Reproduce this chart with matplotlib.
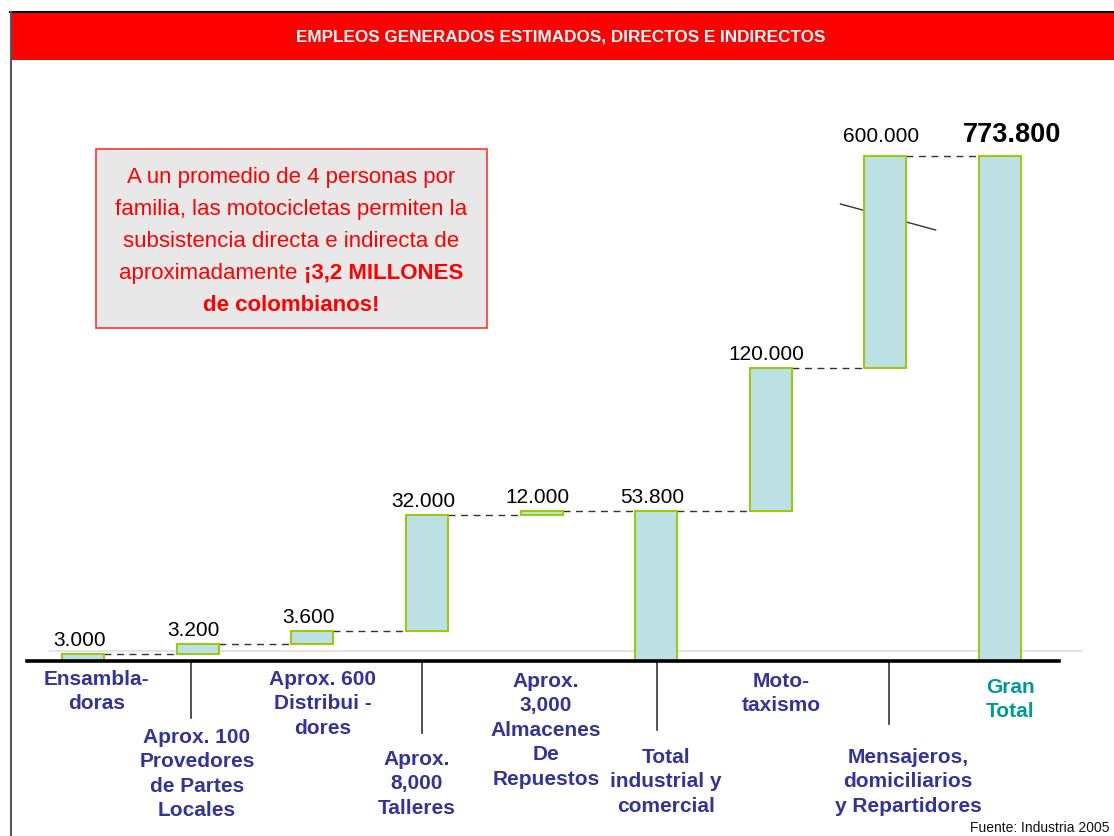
import matplotlib
matplotlib.use("Agg")
import matplotlib.pyplot as plt
from matplotlib.patches import Rectangle
from matplotlib import font_manager

# ---------------- data ----------------
categories = [
    "Ensambla-\ndoras",
    "Aprox. 100\nProvedores\nde Partes\nLocales",
    "Aprox. 600\nDistribui -\ndores",
    "Aprox.\n8,000\nTalleres",
    "Aprox.\n3,000\nAlmacenes\nDe\nRepuestos",
    "Total\nindustrial y\ncomercial",
    "Moto-\ntaxismo",
    "Mensajeros,\ndomiciliarios\ny Repartidores",
    "Gran\nTotal",
]
values = [3000, 3200, 3600, 32000, 12000, 53800, 120000, 600000, 773800]
is_total = [False, False, False, False, False, True, False, False, True]
# bar heights as drawn in the (not-to-scale, broken) chart
drawn_heights = [7, 10, 13, 116, 4, 150, 143, 212, 505]

title = "EMPLEOS GENERADOS ESTIMADOS, DIRECTOS E INDIRECTOS"
note_lines = [
    "A un promedio de 4 personas por",
    "familia, las motocicletas permiten la",
    "subsistencia directa e indirecta de",
]
note_line4 = ("aproximadamente ", "¡3,2 MILLONES")
note_line5 = "de colombianos!"
source = "Fuente: Industria 2005"

# ---------------- styling ----------------
available = {f.name for f in font_manager.fontManager.ttflist}
SANS = "Liberation Sans" if "Liberation Sans" in available else "DejaVu Sans"
NARROW = "Liberation Sans Narrow" if "Liberation Sans Narrow" in available else SANS
plt.rcParams["font.family"] = [SANS, "DejaVu Sans"]

BAR_FILL = "#bce0e3"
BAR_EDGE = "#99cc00"
LABEL_COL = "#333399"
TOTAL_COL = "#009999"

W, H = 1114, 836
fig = plt.figure(figsize=(W / 100, H / 100), dpi=100)

# overlay axes in pixel coordinates for frame decorations
ov = fig.add_axes([0, 0, 1, 1])
ov.set_xlim(0, W)
ov.set_ylim(H, 0)
ov.axis("off")
ov.add_patch(Rectangle((10, 12), W - 10, 48, facecolor="#ff0000", edgecolor="none"))
ov.plot([10, W], [11.5, 11.5], color="black", lw=1.5)
ov.plot([10.5, 10.5], [12, H], color="#555555", lw=1.5)
ov.text(561, 37, title, color="white", fontsize=12.3, fontweight="bold",
        family=[NARROW, "DejaVu Sans"], ha="center", va="center")

# note box
ov.add_patch(Rectangle((96, 149), 391, 179, facecolor="#e8e8e8", edgecolor="#ff3333", lw=1.2))
cx = 291
base_y = [183, 215, 247, 279, 311]
for ln, y in zip(note_lines, base_y[:3]):
    ov.text(cx, y, ln, color="#ff0000", fontsize=16, ha="center", va="baseline")
t_a = ov.text(0, base_y[3], note_line4[0], color="#ff0000", fontsize=16, ha="left", va="baseline")
t_b = ov.text(0, base_y[3], note_line4[1], color="#ff0000", fontsize=16, fontweight="bold",
              ha="left", va="baseline")
ov.text(cx, base_y[4], note_line5, color="#ff0000", fontsize=16, fontweight="bold",
        ha="center", va="baseline")
renderer = fig.canvas.get_renderer()
wa = t_a.get_window_extent(renderer).width
wb = t_b.get_window_extent(renderer).width
start = cx - (wa + wb) / 2
t_a.set_x(start)
t_b.set_x(start + wa)

ov.text(1110, 828, source, fontsize=10, family=[NARROW, "DejaVu Sans"],
        color="#111111", ha="right", va="center")

# main chart axes: x = category index, y = drawn pixels above baseline
ax = fig.add_axes([26 / W, 175 / H, 1031 / W, 561 / H])
ax.set_xlim(-0.5, 8.5)
ax.set_ylim(0, 561)
ax.axis("off")
px = 1031 / 9  # pixels per category

# waterfall bottoms
bottoms, tops = [], []
level = 0
for h, tot in zip(drawn_heights, is_total):
    if tot:
        bottoms.append(0)
        tops.append(h)
        level = h
    else:
        bottoms.append(level)
        level += h
        tops.append(level)

xs = list(range(len(categories)))
bw = 42 / px
ax.bar(xs, [t - b for t, b in zip(tops, bottoms)], bottom=bottoms, width=bw,
       color=BAR_FILL, edgecolor=BAR_EDGE, linewidth=1.4, zorder=3)

# dashed connectors
for i in range(len(xs) - 1):
    y = tops[i]
    ax.plot([xs[i] + bw / 2, xs[i + 1] - bw / 2], [y, y], color="#333333",
            lw=1.0, ls=(0, (5, 4)), zorder=2, clip_on=False)

# break mark behind the large bar
ax.plot([6.61, 7.44], [457, 431], color="#333333", lw=1.0, zorder=1, clip_on=False)

# baseline & light gridline
ax.plot([-0.29, 8.71], [10, 10], color="#e3e3e3", lw=1.5, zorder=0, clip_on=False)
ax.plot([-0.49, 8.52], [0, 0], color="black", lw=2.6, zorder=4, clip_on=False)

# separators
for xsep, ln in zip([0.94, 2.96, 5.01, 7.03], [57, 72, 69, 63]):
    ax.plot([xsep, xsep], [0, -ln], color="#333333", lw=1.2, clip_on=False)


def fmt(v):
    return f"{v:,}".replace(",", ".")


# value labels
for i, (v, t) in enumerate(zip(values, tops)):
    if i == len(values) - 1:
        ax.text(xs[i] + 12 / px, t + 14, fmt(v), fontsize=19.5, fontweight="bold",
                ha="center", va="baseline", clip_on=False)
    else:
        gap = 14 if t > 300 else 8
        ax.text(xs[i] - 4 / px, t + gap, fmt(v), fontsize=15, ha="center",
                va="baseline", clip_on=False)

# category labels
label_dx = [13.5, -1, 10.5, -10, 4.5, 10, 11, 23, 10.5]
label_top = [12, 70, 12, 92, 14, 90, 14, 90, 20]
for i, cat in enumerate(categories):
    col = TOTAL_COL if i == len(categories) - 1 else LABEL_COL
    ax.text(xs[i] + label_dx[i] / px, -label_top[i] + 3, cat, color=col, fontsize=15,
            fontweight="bold", ha="center", va="top", linespacing=1.36,
            multialignment="center", clip_on=False)

fig.savefig("out.png", dpi=100)
